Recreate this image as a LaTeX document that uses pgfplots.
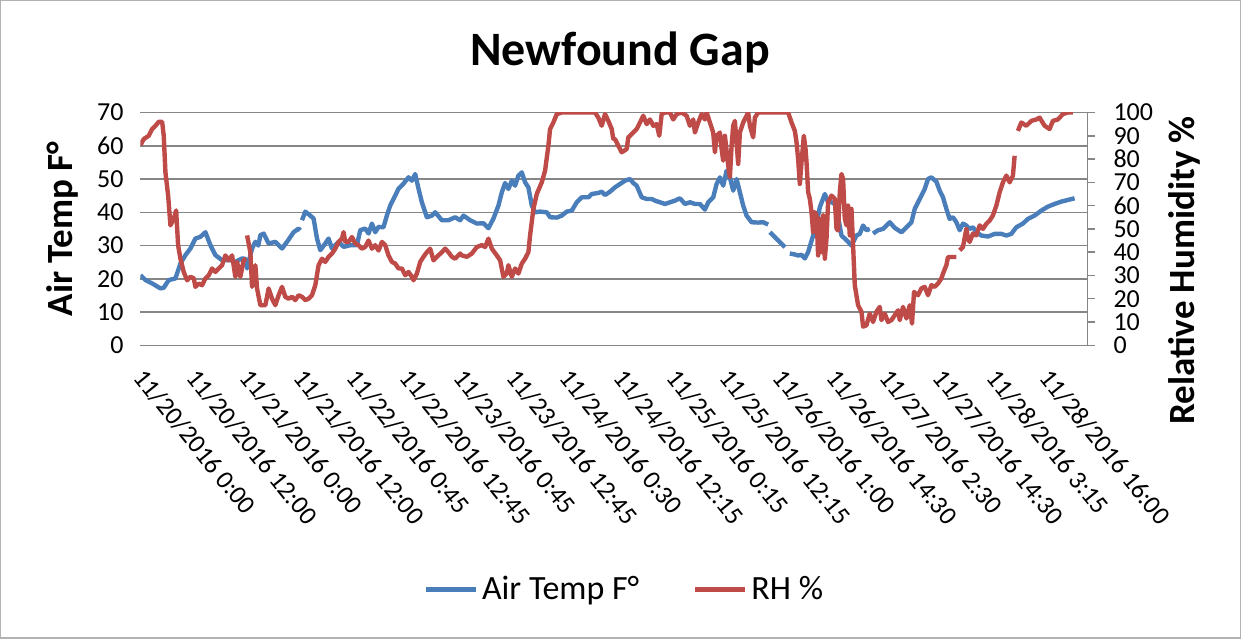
\documentclass[border=0pt]{standalone}
\usepackage{pgfplots}
\pgfplotsset{compat=1.18}
\usepackage{fontspec}
\setmainfont{Carlito}

\definecolor{tempblue}{HTML}{4A7EBB}
\definecolor{rhred}{HTML}{BE4B48}
\definecolor{gridgray}{HTML}{868686}

\newcommand{\tickfont}{\fontsize{13bp}{13bp}\selectfont}

\begin{document}
\begin{tikzpicture}
\pgfplotsset{
  every axis/.append style={
    scale only axis, width=474bp, height=116.5bp,
    xmin=0, xmax=948,
    unbounded coords=jump,
    /pgf/number format/assume math mode=true,
    ticklabel style={font=\tickfont},
  },
}
% air temperature, left axis
\begin{axis}[
  ymin=0, ymax=70, ytick distance=10,
  axis line style={draw=none},
  major tick style={draw=none},
  ymajorgrids, major grid style={gridgray, line width=0.75bp},
  yticklabel style={anchor=east, xshift=-5bp},
  xtick={0,53.35,106.7,160.05,213.4,266.75,320.1,373.45,426.8,480.15,533.5,586.85,640.2,693.55,746.9,800.25,853.6,906.95},
  xticklabels={11/20/2016 0:00, 11/20/2016 12:00, 11/21/2016 0:00, 11/21/2016 12:00,
    11/22/2016 0:45, 11/22/2016 12:45, 11/23/2016 0:45, 11/23/2016 12:45,
    11/24/2016 0:30, 11/24/2016 12:15, 11/25/2016 0:15, 11/25/2016 12:15,
    11/26/2016 1:00, 11/26/2016 14:30, 11/27/2016 2:30, 11/27/2016 14:30,
    11/28/2016 3:15, 11/28/2016 16:00},
  xticklabel style={yshift=-11bp, xshift=-3bp, rotate=-51, anchor=west},
  legend style={at={(axis description cs:0.512,-1.05)}, anchor=center,
    draw=none, fill=none, legend columns=2,
    font=\fontsize{17bp}{17bp}\selectfont,
    /tikz/every even column/.append style={column sep=25bp}},
  legend image code/.code={\draw[#1] (0bp,0bp) -- (25bp,0bp);},
]
\coordinate (O) at (rel axis cs:0,0);
\addplot[tempblue, line width=2.2bp, line join=round] coordinates {
(0,21.1) (5,19.6) (11.7,18.6) (20,17.1) (23.3,17.3) (28.3,19.6) (35,20.1)
(40,24.6) (45,27.1) (50,29.1) (55,32.1) (60,32.6) (65,34.0) (70,30.1)
(75,27.1) (81.7,25.6) (90,25.6) (95,25.1) (101.7,26.1) (105,26.0) (106.7,23.1)
(111.7,29.1) (115,31.1) (118,30) (120,33.1) (123.3,33.6) (128.3,30.6)
(135,31.1) (141.7,29.1) (146.7,31.1) (153.3,34) (158.3,35.1) (160,34.6)
(160.8,nan)
(161.7,37.6) (165,40.2) (170,39) (173.3,38.1) (176.7,32.1) (180,28.6)
(185,30.6) (188.3,32.1) (191.7,29.1) (198.3,31.1) (203.3,29.6) (210,30.1)
(216.7,30.1) (220,34.6) (225,35.1) (228.3,33.6) (231.7,36.6) (235,34)
(238.3,35.6) (243.3,35.5) (246.7,39.1) (250,42) (255,45.0) (258.3,47.1)
(263.3,48.6) (268.3,50.5) (271.7,49.5) (275,51.5) (278.3,47.1) (281.7,43)
(286.7,38.5) (291.7,39) (295,40) (301.7,37.6) (308.3,37.6) (315,38.5)
(320,37.6) (323.3,39) (330,37.6) (336.7,36.6) (343.3,36.7) (348.3,35.2)
(353.3,38.1) (358.3,42) (361.7,46) (365,48.8) (368.3,47) (371.7,49.5)
(375,48) (378.3,51) (381.7,52) (385,49) (388.3,47.5) (391.7,42) (395,40)
(400,40.2) (406.7,40) (410,38.5) (416.7,38.4) (421.7,39) (426.7,40.2)
(431.7,40.5) (436.7,43) (441.7,44.5) (448.3,44.5) (451.7,45.5) (458.3,45.8)
(461.7,46.2) (465,45.2) (470,46.2) (475,47.5) (480,48.5) (485,49.5)
(490,50) (493.3,48.8) (496.7,48) (501.7,44.5) (506.7,44) (511.7,44)
(515,43.5) (520,43) (525,42.5) (530,43) (535,43.5) (540,44.2) (545,42.5)
(550,43) (555,42.5) (560,42.5) (565,40.8) (568.3,43) (573.3,44.5)
(576.7,48.5) (580,50.5) (583.3,48) (586.7,52.5) (590,50.5) (593.3,46.5)
(596.7,50) (600,46) (603.3,42) (606.7,39) (611.7,37) (618.3,36.9)
(623.3,37) (628.3,36.3)
(629,nan)
(630,34) (635,32.5) (640,31) (645,29.5)
(647,nan)
(650,27.6) (655,27.3) (658.3,27) (661.7,27.2) (665,26.1) (668.3,28)
(673.3,33) (676.7,36.6) (680,41.5) (685,45.5) (688.3,43) (691.7,43)
(695,42.5) (698.3,38.5) (701.7,33) (706.7,31.6) (711.7,30) (716.7,33)
(720,33.5) (723.3,36) (726.7,34.6) (730,35)
(731.5,nan)
(733.3,33.6) (738.3,34.6) (743.3,35) (746.7,36) (750,37) (755,35.3)
(761.7,34) (766.7,35.5) (771.7,37) (775,41) (778.3,43) (781.7,45)
(785,47) (788.3,50) (791.7,50.5) (796.7,49.2) (800,46.5) (803.3,44.5)
(806.7,41) (810,38) (813.3,38.5) (816.7,37) (820,34.6) (823.3,36.6)
(826.7,36) (830,35) (833.3,35.5) (836.7,34) (841.7,33) (848.3,32.7)
(855,33.5) (861.7,33.5) (866.7,33) (871.7,33.5) (876.7,35.5) (883.3,36.6)
(888.3,38) (895,39) (901.7,40.5) (908.3,41.7) (915,42.5) (921.7,43.2)
(928.3,43.7) (935,44.2)
};
\addlegendentry{Air Temp F\textdegree}
\addlegendimage{rhred, line width=2.2bp}
\addlegendentry{RH \%}
\end{axis}
% relative humidity, right axis
\begin{axis}[
  ymin=0, ymax=100, ytick distance=10,
  axis x line=none,
  axis y line*=right,
  y axis line style={gridgray, line width=0.75bp},
  tick align=outside, major tick length=3.5bp,
  major tick style={gridgray, line width=0.75bp},
  yticklabel style={anchor=west, xshift=6bp},
]
\addplot[rhred, line width=2.2bp, line join=round] coordinates {
(0,86) (3.3,88.6) (8.3,90) (11.7,92.9) (15,94.3) (18.3,96) (21.7,96)
(23.3,90) (25,74.3) (27.7,64.3) (30,51.5) (33.3,54.3) (35.7,57.9)
(37.7,42.9) (40,37.2) (43.3,31.5) (46.7,27.9) (50,29.4) (53.3,28.8)
(55,25.1) (58.3,26.5) (61.7,25.8) (65,28.7) (68.3,30) (71.7,33) (75,31.5)
(78.3,33) (81.7,34.4) (85,38.6) (88.3,36.5) (91.7,38.6) (95,29.4)
(96.7,35.8) (100,29.4) (103.3,36.5) (105.7,37.2)
(106.2,nan)
(106.7,47.2) (110,40) (111.7,25.1) (115,34.4) (116.7,24.4) (120,17.2)
(125,17.2) (128.3,24.4) (131.7,20) (135,17.2) (138.3,21.5) (141.7,25.1)
(145,20.8) (148.3,20) (151.7,20.8) (155,19.4) (158.3,21.5) (161.7,20.8)
(165,19.4) (168.3,20) (171.7,21.5) (175,25.8) (178.3,34.4) (181.7,37.2)
(185,35.8) (188.3,38) (191.7,39.4) (195,41.5) (198.3,44.4) (201.7,45.8)
(203.3,48.6) (205,44.4) (208.3,44.4) (211.7,46.5) (215,43.7) (218.3,43)
(221.7,41.5) (225,42.2) (228.3,45) (231.7,41.5) (235,43) (238.3,40.7)
(241.7,44.4) (245,43) (248.3,38.6) (251.7,35.8) (255,35.1) (258.3,33)
(261.7,33) (265,30.1) (268.3,31.5) (271.7,29.4) (273.3,27.9) (276.7,30.8)
(280,35.8) (283.3,38) (286.7,40) (290,41.5) (293.3,36.5) (296.7,38)
(301.7,40) (305,41.5) (308.3,40) (311.7,38) (315,37.2) (320,39.4)
(321.7,38.6) (326.7,38) (331.7,39.4) (336.7,42.2) (341.7,43) (345,42.2)
(348.3,45.8) (351.7,41.5) (356.7,38.6) (360,36.5) (363.3,29.4) (366.7,30.8)
(368.3,34.4) (371.7,29.4) (375,33) (378.3,30.8) (381.7,35.1) (385,37.2)
(388.3,40) (390,47.2) (393.3,58.6) (396.7,65) (401.7,70) (405,75)
(408.3,85.7) (410,92.9) (413.3,95.7) (416.7,99.3) (421.7,100) (455,100)
(458.3,97.8) (461.7,94.3) (465,99.3) (468.3,96.4) (471.7,92.9) (473.3,88.6)
(475,88.6) (478.3,85.7) (481.7,82.9) (486.7,84.3) (488.3,89.3) (493.3,91.4)
(496.7,92.9) (500,95.7) (503.3,98.6) (506.7,95) (510,97) (513.3,94.3)
(516.7,95) (519.3,90) (521.7,99.3) (525,100) (530,100) (533.3,97)
(536.7,99.3) (541.7,100) (546.7,98.6) (550,94.3) (553.3,97) (555,91.4)
(558.3,95.7) (561.7,99.3) (565,97) (566.7,100) (570,95.7) (573.3,91.4)
(575,82.9) (576.7,90) (580,91.4) (581.7,84.3) (583.3,79.3) (585,90)
(588.3,77.2) (590,72.2) (591.7,85.7) (593.3,94.3) (595,96.4) (598.3,77.9)
(600,91.4) (603.3,95.7) (606.7,98.6) (608.3,100) (610,94.3) (613.3,89.3)
(615,97.8) (618.3,100) (648.3,100) (651.7,95.7) (655,92.1) (656.7,87.2)
(658.3,80) (660,69.3) (661.7,78.6) (664,90) (665.7,84.3) (666.7,78.6)
(668.3,65.8) (670,62.9) (671.7,57.2) (673.3,48.6) (675,57.2) (676.7,55.8)
(678.3,38.6) (680,54.3) (681.7,40) (683.3,55.8) (685,37.2) (686.7,45.8)
(688.3,61.5) (691.7,64.3) (695,62.9) (696.7,50) (698.3,49.3) (700,65.8)
(701.7,73.6) (703.3,71.5) (705,54.3) (706.7,51.5) (708.3,60) (710,47.2)
(711.7,58.6) (713.3,42.9) (715,25.8) (718.3,17.2) (721.7,14.4) (723.3,8)
(726.7,8.6) (730,13.6) (733.3,10) (736.7,14.4) (740,16.5) (741.7,10.8)
(745,13.6) (748.3,10) (751.7,10.8) (755,12.9) (758.3,15) (760,10.8)
(763.3,16.5) (766.7,11.5) (770,17.2) (772.3,9.3) (774.3,22.9) (778.3,21.5)
(781.7,24.4) (785,25.1) (788.3,21.5) (791.7,25.8) (795,25.1) (798.3,26.5)
(801.7,28.7) (803.3,30.8) (806.7,34.4) (808.3,37.9) (811.7,37.9) (816.7,37.9)
(818,nan)
(820,40.8) (823.3,42.2) (826.7,50.1) (828.3,45.8) (830,44.4) (833.3,48)
(836.7,47.2) (840,51.5) (843.3,50) (846.7,52.2) (850,53.6) (853.3,55.8)
(856.7,60) (860,65.7) (863.3,70) (866.7,72.9) (870,70) (873.3,72.9)
(875,81.4)
(876.5,nan)
(878.3,92.1) (881.7,95.7) (886.7,94.3) (891.7,96.4) (896.7,97) (900,97.8)
(905,94.3) (910,92.9) (913.3,96.4) (918.3,97) (923.3,99.3) (928.3,100)
(933.3,100)
};
\end{axis}
\node[font=\fontsize{24bp}{24bp}\selectfont\bfseries] at ([shift={(240bp,146.5bp)}]O) {Newfound Gap};
\node[rotate=90, font=\fontsize{18.5bp}{18.5bp}\selectfont\bfseries] at ([shift={(-39bp,58.25bp)}]O) {Air Temp F\textdegree};
\node[rotate=90, font=\fontsize{18.5bp}{18.5bp}\selectfont\bfseries] at ([shift={(522.5bp,37.5bp)}]O) {Relative Humidity \%};
\draw[gray!60, line width=0.6bp] ([shift={(-70bp,-146.5bp)}]O) rectangle ([shift={(550.5bp,172.5bp)}]O);
\end{tikzpicture}
\end{document}
